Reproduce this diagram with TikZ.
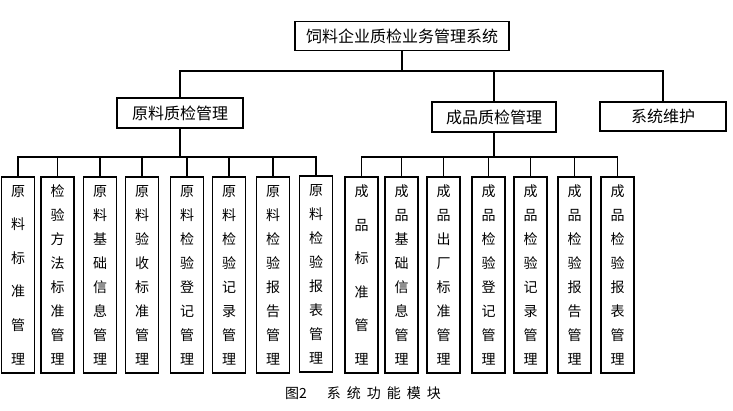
\documentclass[tikz,border=0pt]{standalone}
\usepackage{fontspec}
\newfontfamily\cjk{Noto Sans CJK SC}
\begin{document}
\begin{tikzpicture}[x=1pt,y=-1pt,
  box/.style={draw,line width=1.5pt,inner sep=0pt,font=\cjk\fontsize{16}{18}\selectfont},
  col/.style={draw,line width=1.5pt,inner sep=0pt,minimum width=33pt,minimum height=196pt,align=center,font=\cjk\fontsize{14}{24}\selectfont},
  colwide/.style={col,font=\cjk\fontsize{14}{33.6}\selectfont},
  link/.style={line width=1.5pt}]
\useasboundingbox (0,0) rectangle (733,410);
% top levels
\node[box,minimum width=214pt,minimum height=29pt] (top) at (402,36) {饲料企业质检业务管理系统};
\node[box,minimum width=126pt,minimum height=30pt] (yl) at (180,113) {原料质检管理};
\node[box,minimum width=124pt,minimum height=30pt] (cp) at (494,117) {成品质检管理};
\node[box,minimum width=126pt,minimum height=29pt] (xt) at (663,116.5) {系统维护};
\coordinate (b0) at (402,71);
\draw[link] (top.south) -- (b0);
\draw[link] (b0) -| (yl.north);
\draw[link] (b0) -| (cp.north);
\draw[link] (b0) -| (xt.north);
% raw material columns
\node[colwide] (a1) at (18,275) {原\\料\\标\\准\\管\\理};
\node[col] (a2) at (57.5,275) {检\\验\\方\\法\\标\\准\\管\\理};
\node[col] (a3) at (100,275) {原\\料\\基\\础\\信\\息\\管\\理};
\node[col] (a4) at (142,275) {原\\料\\验\\收\\标\\准\\管\\理};
\node[col] (a5) at (187,275) {原\\料\\检\\验\\登\\记\\管\\理};
\node[col] (a6) at (229,275) {原\\料\\检\\验\\记\\录\\管\\理};
\node[col] (a7) at (273,275) {原\\料\\检\\验\\报\\告\\管\\理};
\node[col] (a8) at (316,274) {原\\料\\检\\验\\报\\表\\管\\理};
\coordinate (b1) at (180,157);
\draw[link] (yl.south) -- (b1);
\foreach \n in {a1,a2,a3,a4,a5,a6,a7,a8} \draw[link] (b1) -| (\n.north);
% product columns
\node[colwide] (c1) at (361.5,275) {成\\品\\标\\准\\管\\理};
\node[col] (c2) at (401.5,275) {成\\品\\基\\础\\信\\息\\管\\理};
\node[col] (c3) at (443.5,275) {成\\品\\出\\厂\\标\\准\\管\\理};
\node[col] (c4) at (488.5,275) {成\\品\\检\\验\\登\\记\\管\\理};
\node[col] (c5) at (530.5,275) {成\\品\\检\\验\\记\\录\\管\\理};
\node[col] (c6) at (574.5,275) {成\\品\\检\\验\\报\\告\\管\\理};
\node[col] (c7) at (617.5,275) {成\\品\\检\\验\\报\\表\\管\\理};
\coordinate (b2) at (494,157);
\draw[link] (cp.south) -- (b2);
\foreach \n in {c1,c2,c3,c4,c5,c6,c7} \draw[link] (b2) -| (\n.north);
% caption
\node[font=\cjk\fontsize{14}{16}\selectfont,inner sep=0pt] (cap) at (363,393) {图2\hspace{20pt}系\hspace{6pt}统\hspace{6pt}功\hspace{6pt}能\hspace{6pt}模\hspace{6pt}块};
\end{tikzpicture}
\end{document}
